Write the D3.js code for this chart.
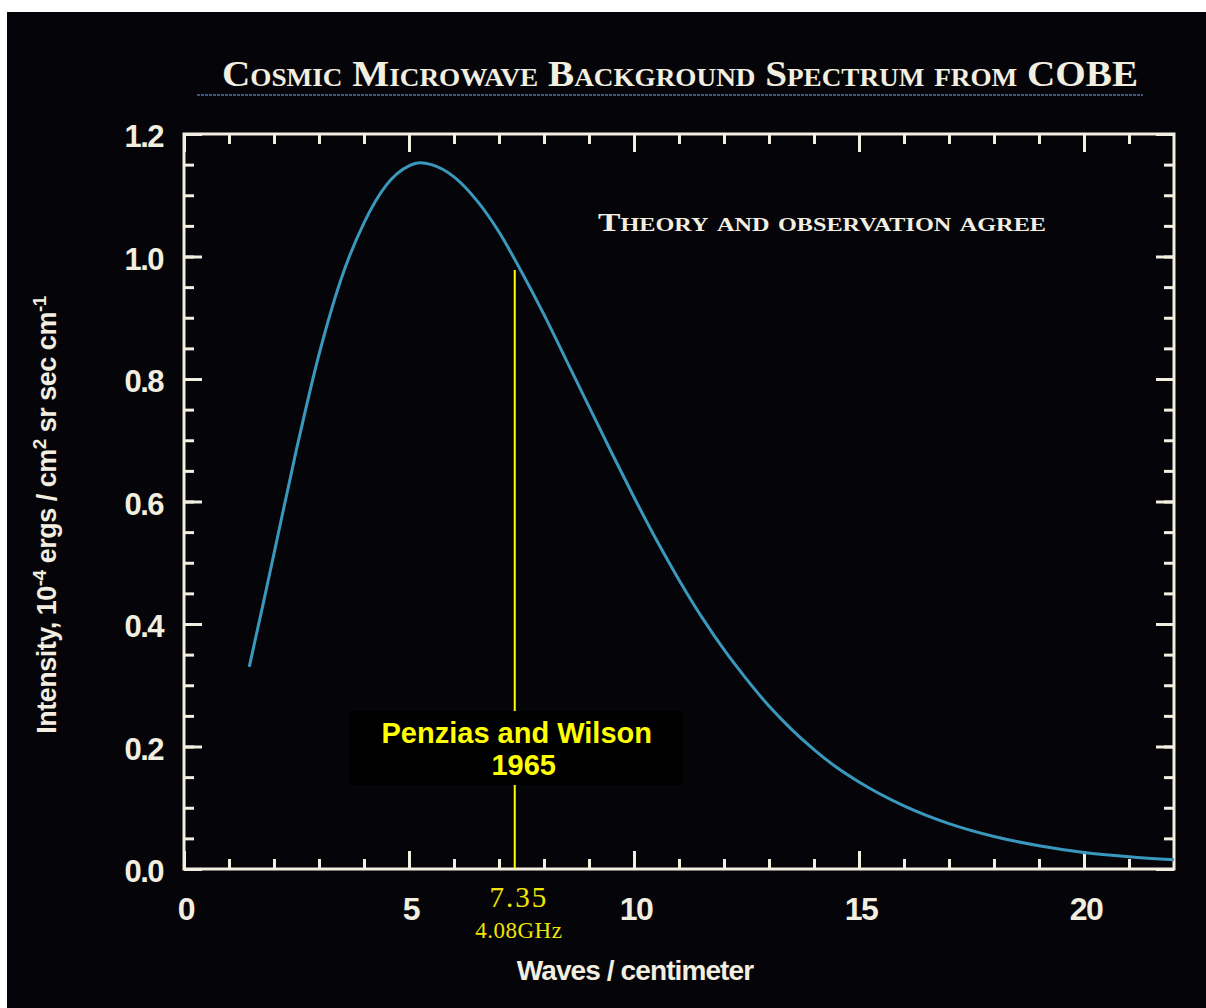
<!DOCTYPE html>
<html>
<head>
<meta charset="utf-8">
<style>
  body { margin: 0; background: #ffffff; }
  svg { display: block; }
</style>
</head>
<body>
<div id="container"></div>
<script src="https://cdn.jsdelivr.net/npm/d3@7"></script>
<script>

// wavenumber (waves / cm)
var waves = [1.45, 1.75, 2.0, 2.5, 3.0, 3.5, 4.0, 4.5, 5.0, 5.25, 5.5, 6.0, 6.5, 7.0, 7.5,
             8.0, 8.5, 9.0, 9.5, 10, 10.5, 11, 11.5, 12, 12.5, 13, 13.5, 14, 14.5,
             15, 16, 17, 18, 19, 20, 21, 22];
// intensity, 10^-4 ergs / cm2 sr sec cm-1
var intensity = [0.33, 0.43, 0.515, 0.685, 0.84, 0.965, 1.055, 1.117, 1.148, 1.153, 1.150, 1.130, 1.092, 1.040, 0.975,
                 0.905, 0.830, 0.755, 0.680, 0.607, 0.537, 0.472, 0.412, 0.358, 0.310, 0.266, 0.228, 0.195, 0.166,
                 0.142, 0.103, 0.074, 0.053, 0.038, 0.027, 0.020, 0.015];

var xMajorTicks = [0, 5, 10, 15, 20];
var xMinorTicks = d3.range(1, 22);
var yMajorTicks = [0.0, 0.2, 0.4, 0.6, 0.8, 1.0, 1.2];
var yMinorTicks = d3.range(0.05, 1.2, 0.05);

var penziasWave = 7.35;
var penziasTop = 0.978;
var penziasLabel = ["Penzias and Wilson", "1965"];
var penziasTickLabel = ["7.35", "4.08GHz"];

var cream = "#f2eee0";

var svg = d3.select("#container")
  .append("svg")
    .attr("width", 1206)
    .attr("height", 1008);

// dark panel (white strip left at top and left)
svg.append("rect")
  .attr("x", 7)
  .attr("y", 12)
  .attr("width", 1199)
  .attr("height", 996)
  .attr("fill", "#050509");

var x = d3.scaleLinear()
  .domain([0, 22])
  .range([184, 1174]);

var y = d3.scaleLinear()
  .domain([0, 1.2])
  .range([869, 134]);

// title
svg.append("text")
  .attr("x", 680)
  .attr("y", 86)
  .attr("text-anchor", "middle")
  .attr("textLength", 916)
  .attr("lengthAdjust", "spacingAndGlyphs")
  .style("font-family", "'Liberation Serif', 'DejaVu Serif', serif")
  .style("font-variant", "small-caps")
  .style("font-weight", "bold")
  .style("font-size", "36px")
  .style("fill", cream)
  .text("Cosmic Microwave Background Spectrum from COBE");

svg.append("line")
  .attr("x1", 197)
  .attr("x2", 1143)
  .attr("y1", 95)
  .attr("y2", 95)
  .attr("stroke", "#4f74a8")
  .attr("stroke-width", 1.5)
  .attr("stroke-dasharray", "3,1");

// ticks - all inward, on all four sides
function addTicks(axisFn, vals, size, transform) {
  var g = svg.append("g")
    .attr("transform", transform)
    .call(axisFn.tickValues(vals).tickSize(size).tickFormat(""));
  g.select(".domain").remove();
  g.selectAll(".tick line")
    .attr("stroke", cream)
    .attr("stroke-width", 3);
  return g;
}

addTicks(d3.axisBottom(x), xMinorTicks, -10, "translate(0," + y(0) + ")");
addTicks(d3.axisBottom(x), xMajorTicks, -18, "translate(0," + y(0) + ")");
addTicks(d3.axisTop(x), xMinorTicks, -10, "translate(0," + y(1.2) + ")");
addTicks(d3.axisTop(x), xMajorTicks, -18, "translate(0," + y(1.2) + ")");
addTicks(d3.axisLeft(y), yMinorTicks, -10, "translate(" + x(0) + ",0)");
addTicks(d3.axisLeft(y), yMajorTicks, -18, "translate(" + x(0) + ",0)");
addTicks(d3.axisRight(y), yMinorTicks, -10, "translate(" + x(22) + ",0)");
addTicks(d3.axisRight(y), yMajorTicks, -18, "translate(" + x(22) + ",0)");

// frame
svg.append("rect")
  .attr("x", x(0))
  .attr("y", y(1.2))
  .attr("width", x(22) - x(0))
  .attr("height", y(0) - y(1.2))
  .attr("fill", "none")
  .attr("stroke", cream)
  .attr("stroke-width", 3);

// tick labels
var tickFont = "'Liberation Sans', Arial, sans-serif";

svg.append("g")
  .selectAll("text")
  .data(xMajorTicks)
  .enter()
  .append("text")
    .attr("x", function (d) { return x(d) + 2; })
    .attr("y", 920)
    .attr("text-anchor", "middle")
    .style("font-family", tickFont)
    .style("font-weight", "bold")
    .style("font-size", "32px")
    .style("letter-spacing", "-1.5px")
    .style("fill", cream)
    .text(function (d) { return d; });

svg.append("g")
  .selectAll("text")
  .data(yMajorTicks)
  .enter()
  .append("text")
    .attr("x", 163)
    .attr("y", function (d) { return y(d) + 13; })
    .attr("text-anchor", "end")
    .style("font-family", tickFont)
    .style("font-weight", "bold")
    .style("font-size", "31px")
    .style("letter-spacing", "-1.5px")
    .style("fill", cream)
    .text(function (d) { return d.toFixed(1); });

// axis titles
svg.append("text")
  .attr("x", 635)
  .attr("y", 980)
  .attr("text-anchor", "middle")
  .style("font-family", tickFont)
  .style("font-weight", "bold")
  .style("font-size", "28px")
  .style("letter-spacing", "-0.9px")
  .style("fill", cream)
  .text("Waves / centimeter");

var yTitle = svg.append("text")
  .attr("transform", "translate(56,515) rotate(-90)")
  .attr("text-anchor", "middle")
  .style("font-family", tickFont)
  .style("font-weight", "bold")
  .style("font-size", "27px")
  .style("letter-spacing", "-0.5px")
  .style("fill", cream);
yTitle.append("tspan").text("Intensity, 10");
yTitle.append("tspan").attr("dy", -10).style("font-size", "19px").text("-4");
yTitle.append("tspan").attr("dy", 10).text(" ergs / cm");
yTitle.append("tspan").attr("dy", -10).style("font-size", "19px").text("2");
yTitle.append("tspan").attr("dy", 10).text(" sr sec cm");
yTitle.append("tspan").attr("dy", -10).style("font-size", "19px").text("-1");

// note inside plot
svg.append("text")
  .attr("x", 598)
  .attr("y", 231)
  .attr("textLength", 448)
  .attr("lengthAdjust", "spacingAndGlyphs")
  .style("font-family", "'Liberation Serif', 'DejaVu Serif', serif")
  .style("font-variant", "small-caps")
  .style("font-weight", "bold")
  .style("font-size", "25px")
  .style("fill", cream)
  .text("Theory and observation agree");

// spectrum curve
var points = waves.map(function (w, i) { return [w, intensity[i]]; });

var line = d3.line()
  .x(function (d) { return x(d[0]); })
  .y(function (d) { return y(d[1]); })
  .curve(d3.curveMonotoneX);

svg.append("path")
  .datum(points)
  .attr("d", line)
  .attr("fill", "none")
  .attr("stroke", "#3a98bd")
  .attr("stroke-width", 3);

// Penzias & Wilson marker
svg.append("line")
  .attr("x1", x(penziasWave))
  .attr("x2", x(penziasWave))
  .attr("y1", y(0))
  .attr("y2", y(penziasTop))
  .attr("stroke", "#ffff00")
  .attr("stroke-width", 2);

svg.append("rect")
  .attr("x", 350)
  .attr("y", 711)
  .attr("width", 333)
  .attr("height", 74)
  .attr("fill", "#000000");

svg.append("text")
  .attr("x", x(penziasWave) + 2)
  .attr("y", 743)
  .attr("text-anchor", "middle")
  .style("font-family", tickFont)
  .style("font-weight", "bold")
  .style("font-size", "29px")
  .style("fill", "#ffff00")
  .text(penziasLabel[0]);

svg.append("text")
  .attr("x", x(penziasWave) + 9)
  .attr("y", 775)
  .attr("text-anchor", "middle")
  .style("font-family", tickFont)
  .style("font-weight", "bold")
  .style("font-size", "29px")
  .style("fill", "#ffff00")
  .text(penziasLabel[1]);

svg.append("text")
  .attr("x", x(penziasWave) + 4)
  .attr("y", 907)
  .attr("text-anchor", "middle")
  .style("font-family", "'Liberation Serif', serif")
  .style("font-size", "29px")
  .style("letter-spacing", "2px")
  .style("fill", "#f2e600")
  .text(penziasTickLabel[0]);

svg.append("text")
  .attr("x", x(penziasWave) + 4)
  .attr("y", 938)
  .attr("text-anchor", "middle")
  .style("font-family", "'Liberation Serif', serif")
  .style("font-size", "23px")
  .style("letter-spacing", "0.5px")
  .style("fill", "#f2e600")
  .text(penziasTickLabel[1]);

</script>
</body>
</html>
